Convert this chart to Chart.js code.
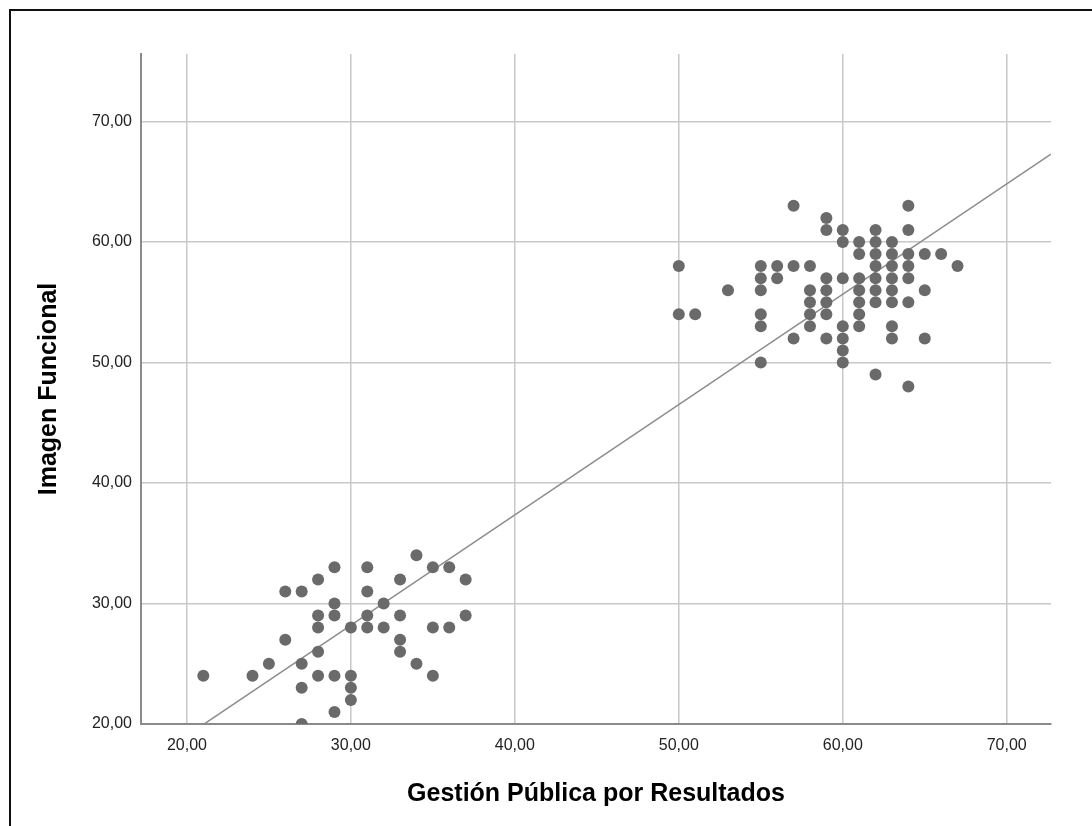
<!DOCTYPE html>
<html>
<head>
<meta charset="utf-8">
<script src="https://cdn.jsdelivr.net/npm/chart.js@4"></script>
<style>
  html, body { margin: 0; padding: 0; background: #fff; }
  #wrap { position: relative; width: 1092px; height: 826px; overflow: hidden; }
  #frame { position: absolute; left: 9px; top: 9px; width: 1200px; height: 900px;
           border-left: 2px solid #111; border-top: 2px solid #111; }
  canvas { position: absolute; left: 0; top: 0; }
</style>
</head>
<body>
<div id="wrap">
  <div id="frame"></div>
  <canvas id="myChart" width="1092" height="826"></canvas>
</div>
<script>
// Gestión Pública por Resultados (x) vs Imagen Funcional (y)
const gestion = [
    21, 24, 25, 26, 26, 27, 27, 27, 27,
    28, 28, 28, 28, 28, 29, 29, 29, 29, 29,
    30, 30, 30, 30, 31, 31, 31, 31, 32, 32,
    33, 33, 33, 33, 34, 34, 35, 35, 35, 36, 36, 37, 37,
    50, 50, 51, 53, 55, 55, 55, 55, 55, 55, 56, 56, 57, 57, 57,
    58, 58, 58, 58, 58,
    59, 59, 59, 59, 59, 59, 59,
    60, 60, 60, 60, 60, 60, 60,
    61, 61, 61, 61, 61, 61, 61,
    62, 62, 62, 62, 62, 62, 62, 62,
    63, 63, 63, 63, 63, 63, 63, 63,
    64, 64, 64, 64, 64, 64, 64,
    65, 65, 65, 66, 67
];
const imagen = [
    24, 24, 25, 31, 27, 31, 25, 23, 20,
    32, 29, 28, 26, 24, 33, 30, 29, 24, 21,
    28, 24, 23, 22, 33, 31, 29, 28, 30, 28,
    32, 29, 27, 26, 34, 25, 33, 28, 24, 33, 28, 32, 29,
    58, 54, 54, 56, 58, 57, 56, 54, 53, 50, 58, 57, 63, 58, 52,
    58, 56, 55, 54, 53,
    62, 61, 57, 56, 55, 54, 52,
    61, 60, 57, 53, 52, 51, 50,
    60, 59, 57, 56, 55, 54, 53,
    61, 60, 59, 58, 57, 56, 55, 49,
    60, 59, 58, 57, 56, 55, 53, 52,
    63, 61, 59, 58, 57, 55, 48,
    59, 56, 52, 59, 58
];

const xTickValues = [20, 30, 40, 50, 60, 70];
const xTickLabels = ['20,00', '30,00', '40,00', '50,00', '60,00', '70,00'];
const yTickValues = [20, 30, 40, 50, 60, 70];
const yTickLabels = ['20,00', '30,00', '40,00', '50,00', '60,00', '70,00'];

const xRange = [17.2, 72.7];
const yRange = [20, 75.6];

// least squares fit line, like the SPSS "fit line at total"
function linearFit(xs, ys) {
    const n = xs.length;
    let sx = 0, sy = 0, sxx = 0, sxy = 0;
    for (let i = 0; i < n; i++) {
        sx += xs[i]; sy += ys[i];
        sxx += xs[i] * xs[i]; sxy += xs[i] * ys[i];
    }
    const slope = (n * sxy - sx * sy) / (n * sxx - sx * sx);
    const intercept = (sy - slope * sx) / n;
    return {slope, intercept};
}

const fit = linearFit(gestion, imagen);
const fitLine = xRange.map(x => ({x: x, y: fit.intercept + fit.slope * x}));
const points = gestion.map((x, i) => ({x: x, y: imagen[i]}));

const ctx = document.getElementById('myChart').getContext('2d');

new Chart(ctx, {
    type: 'scatter',
    data: {
        datasets: [{
            label: 'Fit',
            type: 'line',
            data: fitLine,
            borderColor: '#8c8c8c',
            borderWidth: 1.5,
            pointRadius: 0,
            fill: false,
            order: 2
        }, {
            label: 'Casos',
            data: points,
            backgroundColor: '#6a6a6a',
            borderColor: '#6a6a6a',
            borderWidth: 0,
            pointRadius: 6,
            order: 1
        }]
    },
    options: {
        responsive: false,
        animation: false,
        layout: {
            padding: {top: 54, right: 41, left: 0, bottom: 0}
        },
        plugins: {
            legend: {display: false},
            tooltip: {enabled: false}
        },
        scales: {
            x: {
                type: 'linear',
                min: xRange[0],
                max: xRange[1],
                afterFit: (scale) => { scale.height = 102; },
                afterBuildTicks: (scale) => {
                    scale.ticks = xTickValues.map(v => ({value: v}));
                },
                ticks: {
                    callback: (value, index) => xTickLabels[index],
                    font: {family: 'Liberation Sans, Arial, sans-serif', size: 16},
                    color: '#222',
                    padding: 12,
                    maxRotation: 0
                },
                grid: {
                    color: '#c8c8c8',
                    lineWidth: 1.5,
                    drawTicks: false
                },
                border: {display: true, color: '#8a8a8a', width: 2},
                title: {
                    display: true,
                    text: 'Gestión Pública por Resultados',
                    font: {family: 'Liberation Sans, Arial, sans-serif', size: 25, weight: 'bold'},
                    color: '#000',
                    padding: {top: 0, bottom: 17}
                }
            },
            y: {
                type: 'linear',
                min: yRange[0],
                max: yRange[1],
                afterFit: (scale) => { scale.width = 141; },
                afterBuildTicks: (scale) => {
                    scale.ticks = yTickValues.map(v => ({value: v}));
                },
                ticks: {
                    callback: (value, index) => yTickLabels[index],
                    font: {family: 'Liberation Sans, Arial, sans-serif', size: 16},
                    color: '#222',
                    padding: 9
                },
                grid: {
                    color: '#c8c8c8',
                    lineWidth: 1.5,
                    drawTicks: false
                },
                border: {display: true, color: '#8a8a8a', width: 2},
                title: {
                    display: true,
                    text: 'Imagen Funcional',
                    font: {family: 'Liberation Sans, Arial, sans-serif', size: 25, weight: 'bold'},
                    color: '#000',
                    padding: {top: 34, bottom: 0}
                }
            }
        }
    }
});
</script>
</body>
</html>
